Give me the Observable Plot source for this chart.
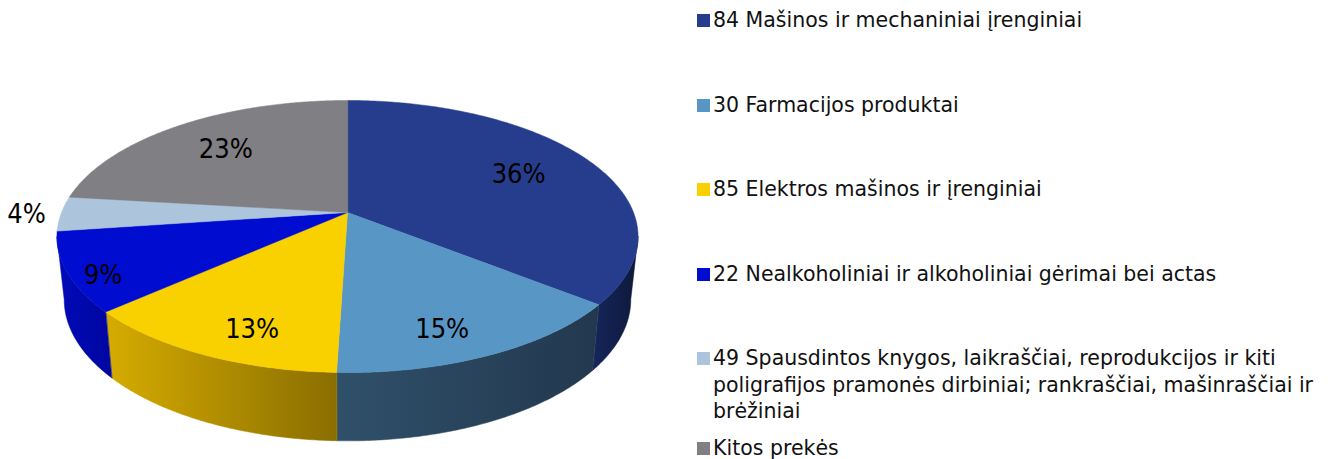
<!DOCTYPE html>
<html>
<head>
<meta charset="utf-8">
<script src="https://cdn.jsdelivr.net/npm/d3@7"></script>
<script src="https://cdn.jsdelivr.net/npm/@observablehq/plot@0.6"></script>
<style>
  body { margin: 0; background: #fff; }
  #wrap { position: relative; width: 1340px; height: 459px; overflow: hidden; }
  #chart { position: absolute; left: 0; top: 0; }
  #legend { position: absolute; left: 697px; top: 0; width: 643px; height: 459px;
            font-family: "DejaVu Sans", sans-serif; font-size: 20.5px; line-height: 26.5px; color: #111; }
  .item { position: absolute; left: 0; display: flex; align-items: flex-start; }
  .sw { width: 13px; height: 13px; flex: none; margin-top: 7px; margin-right: 3px; }
  .txt { width: 627px; }
</style>
</head>
<body>
<div id="wrap">
  <div id="chart"></div>
  <div id="legend"></div>
</div>
<script>
// ---- data ----
const categories = [
  "84 Mašinos ir mechaniniai įrenginiai",
  "30 Farmacijos produktai",
  "85 Elektros mašinos ir įrenginiai",
  "22 Nealkoholiniai ir alkoholiniai gėrimai bei actas",
  "49 Spausdintos knygos, laikraščiai, reprodukcijos ir kiti poligrafijos pramonės dirbiniai; rankraščiai, mašinraščiai ir brėžiniai",
  "Kitos prekės"
];
// shares in percent (labels show rounded values)
const shares = [35.7, 14.8, 12.9, 9.4, 4.1, 23.1];
const topColors = ["#253D8C", "#5896C5", "#F9D000", "#000CCF", "#ADC4DD", "#7F7F84"];
const wallLight = ["#16265C", "#30506A", "#D6AC00", "#000AB8", "#8FA3B8", "#5C5C60"];
const wallDark  = ["#0D1839", "#22384E", "#8A6E00", "#0006A0", "#6E7E90", "#444446"];

// ---- geometry (3D pie with perspective) ----
const W = 690, Hh = 459;
const cx = 347, cy = 212, R = 286, RY = 131.8, K = 0.1765, DEPTH = 62, SHRINK = 0.975;
function proj(a, r = 1) {
  const X = r * Math.sin(a), V = -r * Math.cos(a);
  const s = 1 / (1 - K * V);
  return {x: cx + R * X * s, y: cy + RY * V * s, s};
}
function bottom(a) {
  const p = proj(a);
  return {x: cx + (p.x - cx) * SHRINK, y: p.y + DEPTH * Math.sqrt(p.s)};
}
function arcAngles(a0, a1) {
  const n = Math.max(2, Math.ceil((a1 - a0) / (Math.PI / 360)));
  return d3.range(n + 1).map(i => a0 + (a1 - a0) * i / n);
}
// visible part of the outer wall: between the two silhouette angles
const wallStart = Math.acos(-K), wallEnd = 2 * Math.PI - Math.acos(-K);

const total = d3.sum(shares);
const arcs = d3.pie().sort(null).value(d => d).startAngle(0).endAngle(2 * Math.PI)(shares);

const topPts = [];
const wallPts = [];
arcs.forEach((a, i) => {
  topPts.push({x: cx, y: cy, id: i, fill: topColors[i]});
  arcAngles(a.startAngle, a.endAngle).forEach(t => { const p = proj(t); topPts.push({x: p.x, y: p.y, id: i, fill: topColors[i]}); });
  const w0 = Math.max(a.startAngle, wallStart), w1 = Math.min(a.endAngle, wallEnd);
  if (w1 > w0) {
    const ang = arcAngles(w0, w1);
    ang.forEach(t => { const p = proj(t); wallPts.push({x: p.x, y: p.y, id: i, fill: `url(#wall${i})`}); });
    ang.slice().reverse().forEach(t => { const p = bottom(t); wallPts.push({x: p.x, y: p.y, id: i, fill: `url(#wall${i})`}); });
  }
});

const labels = arcs.map((a, i) => {
  const m = (a.startAngle + a.endAngle) / 2;
  const f = shares[i] / total;
  const r = f < 0.05 ? 1.12 : f < 0.1 ? 0.88 : 0.7;
  const p = proj(m, r);
  const V = -Math.cos(m);
  return {x: p.x, y: p.y + 0.4 * DEPTH * Math.max(V, 0), text: Math.round(f * 100) + "%"};
});

function gradients() {
  const defs = d3.create("svg:defs");
  topColors.forEach((c, i) => {
    const g = defs.append("linearGradient").attr("id", `wall${i}`).attr("x1", 0).attr("x2", 1).attr("y1", 0).attr("y2", 0);
    g.append("stop").attr("offset", "0%").attr("stop-color", wallLight[i]);
    g.append("stop").attr("offset", "100%").attr("stop-color", wallDark[i]);
  });
  return defs.node();
}

const chart = Plot.plot({
  width: W, height: Hh,
  margin: 0,
  x: {domain: [0, W], range: [0, W], axis: null},
  y: {domain: [0, Hh], range: [0, Hh], axis: null},
  color: {type: "identity"},
  style: {background: "transparent"},
  marks: [
    gradients,
    Plot.line(wallPts, {x: "x", y: "y", z: "id", fill: "fill", stroke: "fill", strokeWidth: 0.5, curve: "linear-closed"}),
    Plot.line(topPts, {x: "x", y: "y", z: "id", fill: "fill", stroke: "fill", strokeWidth: 0.5, curve: "linear-closed"}),
    Plot.text(labels, {x: "x", y: "y", text: "text", fontSize: 27, fontFamily: "DejaVu Sans Condensed", fill: "#000", textAnchor: "middle"})
  ]
});
document.getElementById("chart").appendChild(chart);

// ---- legend ----
const legend = d3.select("#legend");
let prevBottom = -Infinity;
categories.forEach((c, i) => {
  const item = legend.append("div").attr("class", "item");
  item.append("div").attr("class", "sw").style("background", topColors[i]);
  item.append("div").attr("class", "txt").text(c);
  const top = Math.max(7 + i * 84.5, prevBottom + 10);
  item.style("top", top + "px");
  prevBottom = top + item.node().getBoundingClientRect().height;
});
</script>
</body>
</html>
